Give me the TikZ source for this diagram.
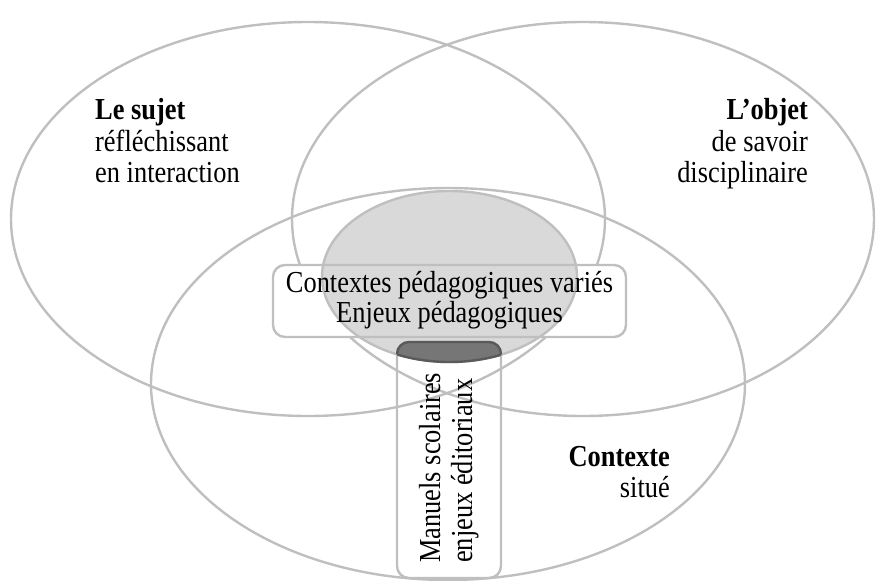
\documentclass[tikz,border=0pt]{standalone}
\usepackage{graphicx}
\usepackage{fontspec}
\setmainfont{Liberation Serif}
\definecolor{ringgray}{RGB}{191,191,191}
\definecolor{lightfill}{RGB}{217,217,217}
\definecolor{darkfill}{RGB}{118,118,118}
\definecolor{darkline}{RGB}{90,90,90}
\newcommand{\nrw}[1]{\scalebox{0.866}[1]{#1}}
\begin{document}
\begin{tikzpicture}[x=1pt,y=-1pt,
  ring/.style={draw=ringgray,line width=2.4pt},
  boxline/.style={draw=ringgray,line width=2.4pt,rounded corners=12pt},
  lbl/.style={inner sep=0pt,font=\fontsize{30.5}{36}\selectfont}]
\useasboundingbox (0,0) rectangle (876,581);
% three main ellipses
\draw[ring] (308,219) ellipse [x radius=297,y radius=197];
\draw[ring] (583,219) ellipse [x radius=291,y radius=197];
\draw[ring] (448,384) ellipse [x radius=297,y radius=196];
% horizontal box (white fill hides outlines)
\fill[white,rounded corners=12pt] (273,265) rectangle (626,337);
% central grey ellipse
\draw[ring,fill=lightfill] (449.5,276.5) ellipse [x radius=127.5,y radius=85.5];
\draw[boxline] (273,265) rectangle (626,337);
% vertical box
\draw[boxline] (397,342) rectangle (501,578);
\begin{scope}
  \clip (449.5,276.5) ellipse [x radius=127.5,y radius=85.5];
  \fill[darkfill,rounded corners=12pt] (397,342) rectangle (501,578);
  \draw[draw=darkline,line width=2.4pt,rounded corners=12pt] (397,342) rectangle (501,578);
\end{scope}
\begin{scope}
  \clip[rounded corners=12pt] (397,342) rectangle (501,578);
  \draw[draw=darkline,line width=2.4pt] (449.5,276.5) ellipse [x radius=127.5,y radius=85.5];
\end{scope}
% labels
\node[lbl,anchor=base west] (s1) at (95,119) {\nrw{\textbf{Le sujet}}};
\node[lbl,anchor=base west] (s2) at (95,151) {\nrw{réfléchissant}};
\node[lbl,anchor=base west] (s3) at (95,182) {\nrw{en interaction}};
\node[lbl,anchor=base east] (o1) at (808,119) {\nrw{\textbf{L’objet}}};
\node[lbl,anchor=base east] (o2) at (808,151) {\nrw{de savoir}};
\node[lbl,anchor=base east] (o3) at (808,182) {\nrw{disciplinaire}};
\node[lbl,anchor=base east] (c1) at (670,466) {\nrw{\textbf{Contexte}}};
\node[lbl,anchor=base east] (c2) at (670,497) {\nrw{situé}};
\node[lbl,anchor=base] (m1) at (449.5,292) {\nrw{Contextes pédagogiques variés}};
\node[lbl,anchor=base] (m2) at (449.5,322) {\nrw{Enjeux pédagogiques}};
\node[lbl,anchor=base west,rotate=90] (v1) at (440,563) {\nrw{Manuels scolaires}};
\node[lbl,anchor=base west,rotate=90] (v2) at (472,563) {\nrw{enjeux éditoriaux}};
\end{tikzpicture}
\end{document}
